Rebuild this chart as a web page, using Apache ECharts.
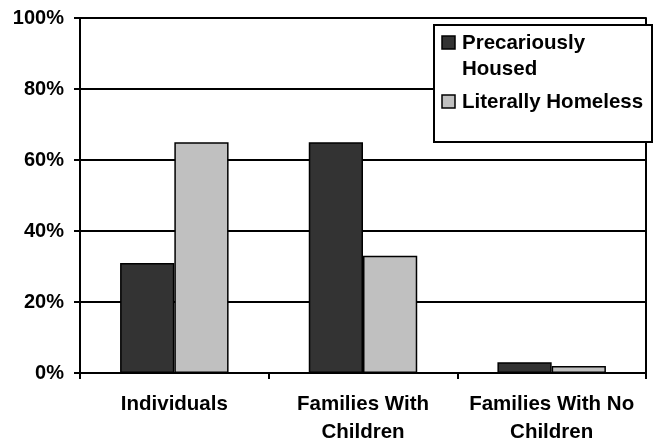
<!DOCTYPE html>
<html>
<head>
<meta charset="utf-8">
<script src="https://cdn.jsdelivr.net/npm/echarts@6/dist/echarts.min.js"></script>
<style>
  html, body { margin: 0; padding: 0; background: #fff; }
  #chart { width: 656px; height: 440px; }
</style>
</head>
<body>
<div id="chart"></div>
<script>
// Share of each household type, in percent
const categories = ['Individuals', 'Families With\nChildren', 'Families With No\nChildren'];
const seriesNames = ['Precariously Housed', 'Literally Homeless'];
const legendLabels = ['Precariously\nHoused', 'Literally Homeless'];
const precariouslyHoused = [31, 65, 3];
const literallyHomeless = [65, 33, 2];
const yTicks = { min: 0, max: 100, interval: 20 };

const FONT = 'Arial, "Liberation Sans", sans-serif';
const colors = ['#333333', '#c0c0c0'];

const chart = echarts.init(document.getElementById('chart'), null, { renderer: 'canvas' });

const barStyle = (c) => ({ color: c, borderColor: '#000', borderWidth: 1.5 });

// Legend box: swatch sits beside the first line of its label
const swatchTops = [36, 95];
const legendItems = legendLabels.map((label, i) => {
  const y = swatchTops[i];
  return [
    { type: 'rect', shape: { x: 442, y: y, width: 13, height: 13 },
      style: { fill: colors[i], stroke: '#000', lineWidth: 1.5 } },
    { type: 'text', x: 462, y: y - 6,
      style: { text: label, font: 'bold 20.5px ' + FONT, fill: '#000',
               verticalAlign: 'top', lineHeight: 26 } }
  ];
}).flat();

chart.setOption({
  animation: false,
  backgroundColor: '#fff',
  grid: { left: 80, right: 10, top: 18, bottom: 67, containLabel: false, outerBoundsMode: 'none' },
  xAxis: {
    type: 'category',
    data: categories,
    axisLine: { lineStyle: { color: '#000', width: 2 } },
    axisTick: { show: true, length: 6, lineStyle: { color: '#000', width: 2 } },
    axisLabel: {
      color: '#000', fontFamily: FONT, fontWeight: 'bold', fontSize: 20.5,
      lineHeight: 28, margin: 17, interval: 0
    }
  },
  yAxis: [{
    type: 'value',
    min: yTicks.min, max: yTicks.max, interval: yTicks.interval,
    axisLine: { show: true, lineStyle: { color: '#000', width: 2 } },
    axisTick: { show: true, length: 6, lineStyle: { color: '#000', width: 2 } },
    axisLabel: {
      formatter: '{value}%', color: '#000', fontFamily: FONT,
      fontWeight: 'bold', fontSize: 20, margin: 16
    },
    splitLine: { show: true, lineStyle: { color: '#000', width: 2 } }
  }, {
    type: 'value',
    position: 'right',
    min: yTicks.min, max: yTicks.max, interval: yTicks.interval,
    axisLine: { show: true, lineStyle: { color: '#000', width: 2 } },
    axisTick: { show: false },
    axisLabel: { show: false },
    splitLine: { show: false }
  }],
  series: [{
    name: seriesNames[0], type: 'bar', data: precariouslyHoused,
    itemStyle: barStyle(colors[0]), barGap: '0%', barCategoryGap: '42.5%'
  }, {
    name: seriesNames[1], type: 'bar', data: literallyHomeless,
    itemStyle: barStyle(colors[1]), barGap: '0%', barCategoryGap: '42.5%'
  }],
  graphic: [{
    type: 'group',
    z: 100,
    children: [
      { type: 'rect', z: 100, shape: { x: 434, y: 25, width: 218, height: 117 },
        style: { fill: '#fff', stroke: '#000', lineWidth: 2 } }
    ].concat(legendItems.map(e => Object.assign(e, { z: 101 })))
  }]
});
</script>
</body>
</html>
